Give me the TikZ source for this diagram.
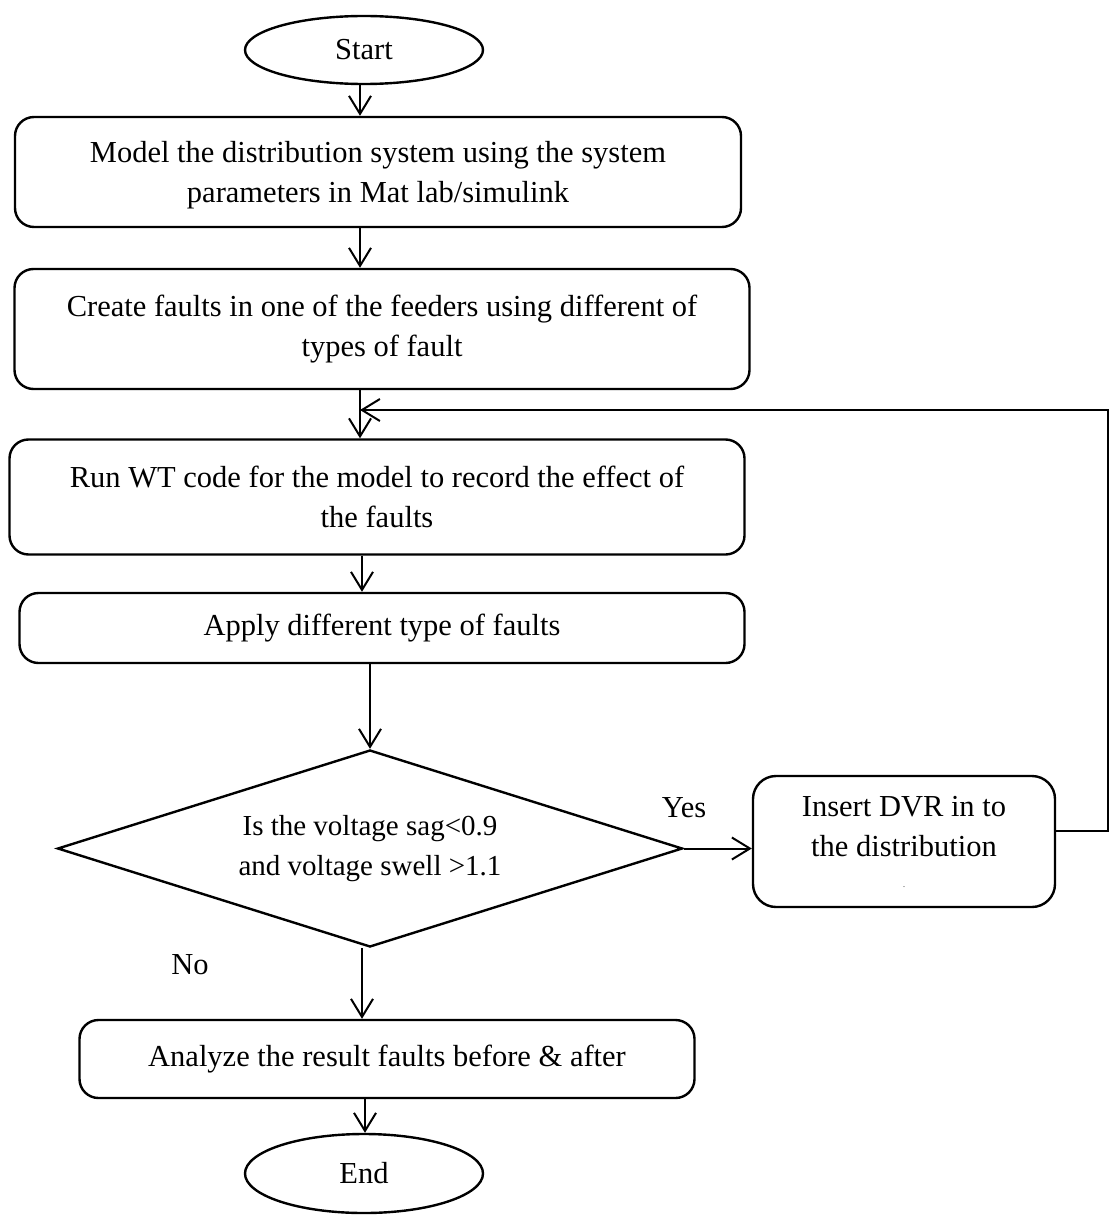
\documentclass[tikz,border=0pt]{standalone}
\usepackage{fontspec}
\setmainfont{Liberation Serif}
\usetikzlibrary{shapes.geometric,arrows.meta}

\begin{document}
\begin{tikzpicture}[x=1pt,y=-1pt,
  box/.style={draw,line width=2.4pt,rounded corners=19pt,align=center,inner sep=0pt,
    font=\fontsize{30.5}{40}\selectfont},
  term/.style={draw,ellipse,line width=2.4pt,inner sep=0pt,font=\fontsize{30.5}{36}\selectfont},
  decision/.style={draw,diamond,shape aspect=3.17,line width=2.4pt,inner sep=0pt,align=center,
    font=\fontsize{29}{40}\selectfont},
  lbl/.style={inner sep=0pt,font=\fontsize{30.5}{36}\selectfont},
  conn/.style={line width=2pt,-{Straight Barb[length=18pt,width=22pt,line width=2pt]}},
  ]
\useasboundingbox (0,0) rectangle (1112,1217);

% process steps
\node[term,minimum width=238pt,minimum height=68pt] (start) at (364,50) {Start};
\node[box,minimum width=726pt,minimum height=110pt] (b1) at (378,172)
  {\strut Model the distribution system using the system\\parameters in Mat lab/simulink};
\node[box,minimum width=735pt,minimum height=120pt] (b2) at (382,329)
  {Create faults in one of the feeders using different of\\types of fault};
\node[box,minimum width=735pt,minimum height=115pt] (b3) at (377,497)
  {Run WT code for the model to record the effect of\\the faults};
\node[box,minimum width=725pt,minimum height=70pt] (b4) at (382,628)
  {Apply different type of faults};
\node[decision,minimum width=625pt,minimum height=197pt] (dec) at (370,848.5)
  {Is the voltage sag<0.9\\and voltage swell >1.1};
\node[box,minimum width=302pt,minimum height=131pt,rounded corners=23pt] (dvr) at (904,841.5)
  {Insert DVR in to\\the distribution\\[-9pt]{\fontsize{8}{10}\selectfont .}};
\node[box,minimum width=615pt,minimum height=78pt] (b5) at (387,1059)
  {Analyze the result faults before \& after};
\node[term,minimum width=238pt,minimum height=79pt] (end) at (364,1173.5) {End};

% branch labels
\node[lbl] (yes) at (684,808) {Yes};
\node[lbl] (no) at (190,965) {No};

% connectors
\coordinate (c1) at (360,0);
\coordinate (c4) at (362,0);
\coordinate (c6) at (362,0);
\coordinate (c7) at (365,0);
\draw[conn] (start.south -| c1) -- (b1.north -| c1);
\draw[conn] (b1.south -| c1) -- (b2.north -| c1);
\draw[conn] (b2.south -| c1) -- (b3.north -| c1);
\draw[conn] (b3.south -| c4) -- (b4.north -| c4);
\draw[conn] (b4.south -| dec.north) -- (dec.north);
\draw[conn] (dec.south -| c6) -- (b5.north -| c6);
\draw[conn] (b5.south -| c7) -- (end.north -| c7);
\draw[conn] (dec.east) -- (dec.east -| dvr.west);

% feedback loop from the DVR step back above the WT step
\coordinate (loopB) at (1108,831);
\coordinate (loopT) at (1108,410);
\draw[conn] (dvr.east |- loopB) -- (loopB) -- (loopT) -- (loopT -| c1);
\end{tikzpicture}
\end{document}
